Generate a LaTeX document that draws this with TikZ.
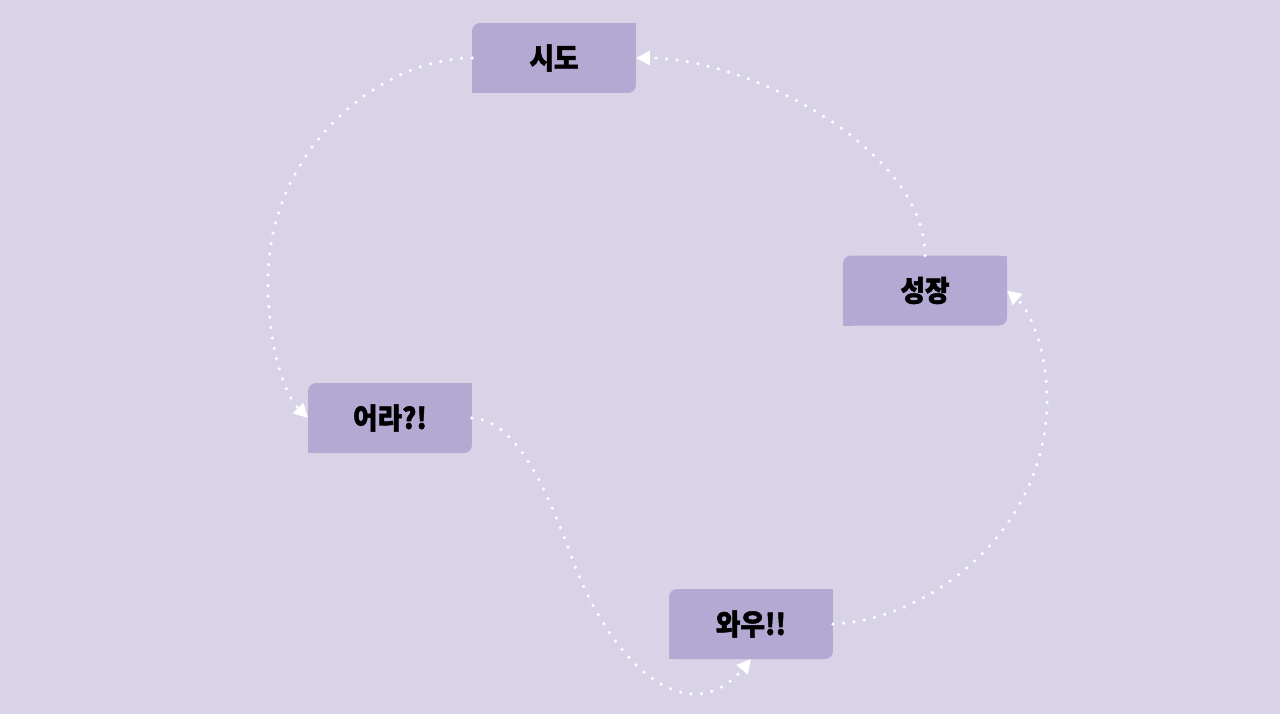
\documentclass[tikz,border=0pt]{standalone}
\usepackage{fontspec}
\newfontfamily\krfont{Noto Sans CJK KR}[BoldFeatures={FakeBold=1.6, FakeStretch=0.92}]
\usetikzlibrary{arrows.meta}
\definecolor{bgc}{HTML}{D8D3E7}
\definecolor{boxc}{HTML}{B3A9D3}
\tikzset{
  stepbox/.style={fill=boxc, rounded corners=0.16cm, minimum width=3.28cm, minimum height=1.4cm,
    inner sep=0pt, outer sep=0pt, font=\krfont\bfseries\fontsize{16.5}{18}\selectfont},
  loopline/.style={white, line width=2pt, line cap=round, dash pattern=on 0pt off 6pt,
    -{Triangle[length=0.28cm, width=0.28cm, fill=white]}}
}
\begin{document}
\begin{tikzpicture}[x=0.02cm, y=-0.02cm]
        \fill[bgc] (0,0) rectangle (1280,714);
        \useasboundingbox (0,0) rectangle (1280,714);

        \node[stepbox] (try) at (554,58) {시도};
        \node[stepbox] (grow) at (925,290.5) {성장};
        \node[stepbox] (oops) at (390,418) {어라?!};
        \node[stepbox] (wow) at (751,624) {와우!!};

        \foreach \n in {try,grow,oops,wow} {
            \fill[boxc] (\n.north east) rectangle +(-10,10);
            \fill[boxc] (\n.south west) rectangle +(10,-10);
        }

        \coordinate (left) at (268,280);
        \coordinate (dip) at (570,553);
        \coordinate (right) at (1047,400);

        \draw[loopline] (try.west) .. controls (380,58) and (268,150) .. (left)
            .. controls (268,350) and (285,395) .. (oops.west);
        \draw[loopline] (oops.east) .. controls (510,420) and (540,470) .. (dip)
            .. controls (612,670) and (690,732) .. (wow.south);
        \draw[loopline] (wow.east) .. controls (930,620) and (1047,530) .. (right)
            .. controls (1047,350) and (1030,310) .. (grow.east);
        \draw[loopline] (grow.north) .. controls (925,150) and (750,58) .. (try.east);
    \end{tikzpicture}
\end{document}
